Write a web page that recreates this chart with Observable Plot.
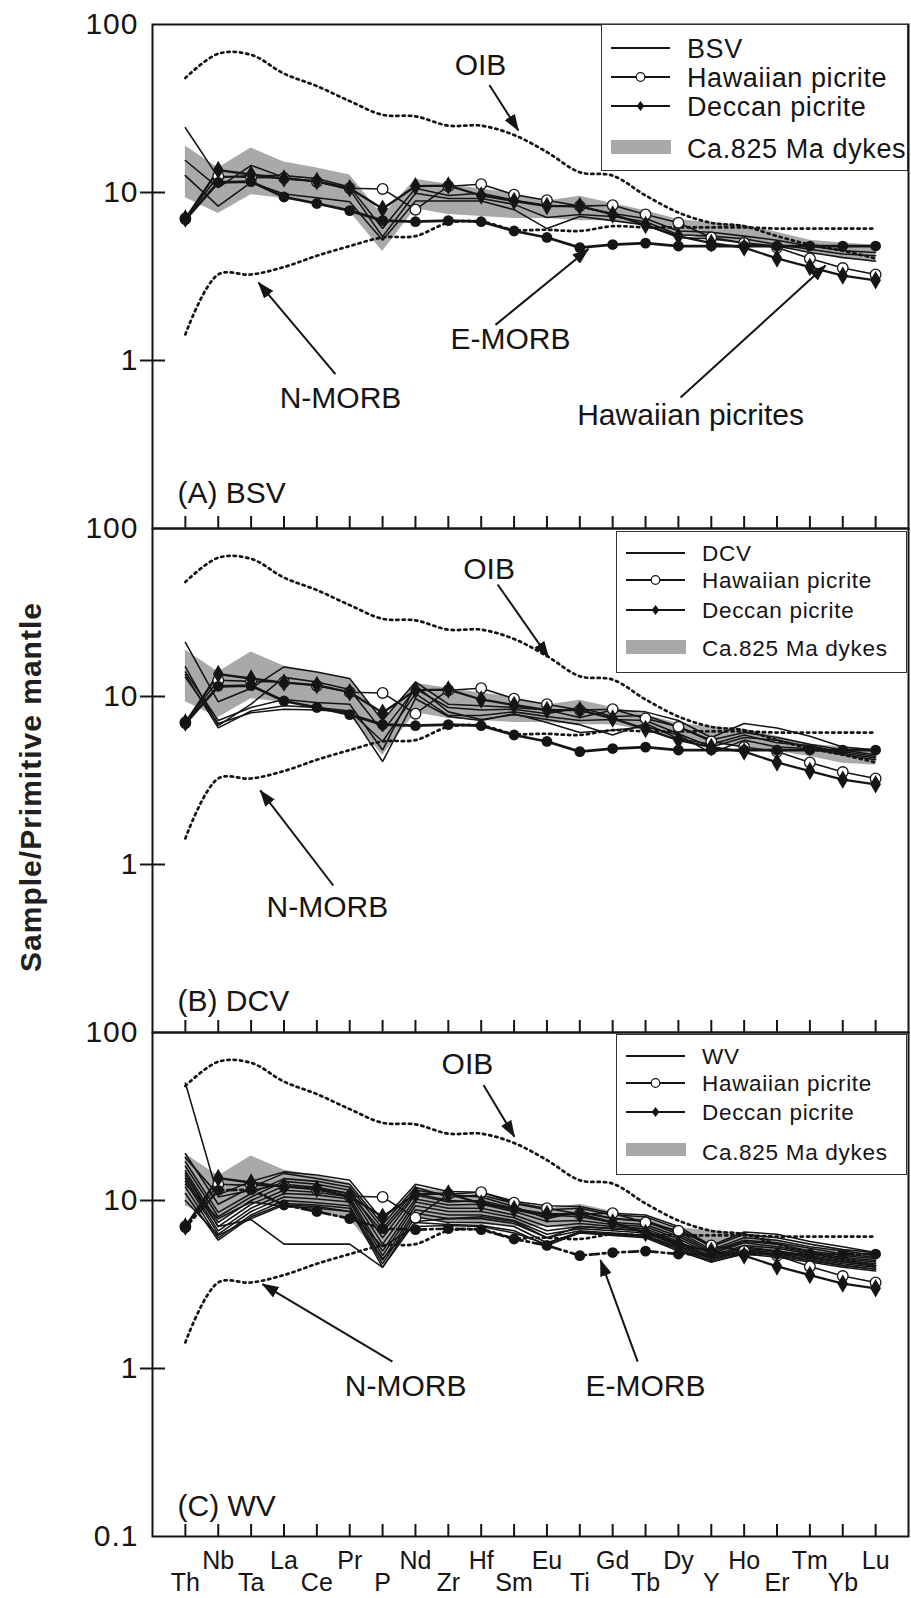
<!DOCTYPE html>
<html>
<head>
<meta charset="utf-8">
<script src="https://cdn.jsdelivr.net/npm/d3@7"></script>
<script src="https://cdn.jsdelivr.net/npm/@observablehq/plot@0.6"></script>
<style>
  body { margin: 0; background: #fff; }
  #wrap { position: relative; width: 911px; height: 1598px; overflow: hidden;
          font-family: "Liberation Sans", Arial, sans-serif; color: #231f20; }
  .panel { position: absolute; left: 0; }
  .panel svg { overflow: visible; background: transparent; }
  g[aria-label="annot"] text { letter-spacing: 2px; }
  g[aria-label="plabel"] text { letter-spacing: 2px; }
  g[aria-label="xlab"] text { letter-spacing: 1.2px; }
  g[aria-label="y-axis tick label"] text { letter-spacing: 1px; }
  .legend { position: absolute; background: #fff; border: 1.5px solid #333; box-sizing: border-box; }
  .legend svg { position: absolute; left: 0; top: 0; overflow: visible; }
  #ytitle { position: absolute; width: 420px; height: 36px; line-height: 36px; left: -179px; top: 769px;
            text-align: center; transform: rotate(-90deg); font-weight: bold; font-size: 30px;
            letter-spacing: 1px; color: #231f20; }
</style>
</head>
<body>
<div id="wrap">
  <div id="ytitle">Sample/Primitive mantle</div>
</div>
<script>
// ---------------- DATA ----------------
const elements = ["Th","Nb","Ta","La","Ce","Pr","P","Nd","Zr","Hf","Sm","Eu","Ti","Gd","Tb","Dy","Y","Ho","Er","Tm","Yb","Lu"];

const oib      = [48, 67, 66, 51, 43, 35, 29, 28.4, 25, 25, 22, 17.4, 13.2, 12.6, 9.6, 7.6, 6.6, 6.3, 5.5, 4.9, 4.5, 4.05];
const nmorb    = [1.43, 3.25, 3.25, 3.6, 4.2, 4.8, 5.4, 5.5, 6.6, 6.7, 6.0, 6.0, 5.9, 6.3, 6.2, 6.2, 6.2, 6.2, 6.1, 6.1, 6.1, 6.1];
const emorb    = [6.9, 11.5, 11.6, 9.4, 8.6, 7.8, 6.8, 6.7, 6.8, 6.7, 5.9, 5.4, 4.7, 4.9, 5.0, 4.8, 4.8, 4.8, 4.8, 4.8, 4.8, 4.8];
const hawaiian = [7.0, 12.5, 12.3, 12.2, 11.6, 10.6, 10.5, 7.9, 10.9, 11.2, 9.7, 9.0, 8.3, 8.4, 7.4, 6.6, 5.4, 5.0, 4.7, 4.05, 3.55, 3.25];
const deccan   = [7.0, 13.6, 12.8, 12.1, 11.7, 10.6, 8.0, 10.9, 11.0, 9.6, 8.9, 8.3, 8.3, 7.4, 6.4, 5.5, 5.0, 4.7, 4.05, 3.6, 3.2, 3.0];

const dykesUpper = [18.9, 14.0, 18.4, 15.2, 14.0, 12.7, 7.3, 12.0, 11.2, 10.5, 9.9, 8.9, 9.5, 8.6, 7.8, 6.9, 6.6, 6.4, 5.8, 5.2, 5.0, 4.85];
const dykesLower = [9.3, 7.5, 9.7, 9.2, 8.4, 7.7, 4.45, 8.0, 7.4, 7.2, 7.0, 7.0, 6.8, 6.8, 6.3, 5.7, 5.2, 4.95, 4.7, 4.4, 4.0, 3.9];

const bsvSamples = [
  [24.3, 12.3, 12.6, 12.6, 12.1, 10.8, 6.1, 10.6, 9.6, 9.9, 9.0, 8.4, 8.2, 7.5, 7.0, 5.9, 5.8, 5.5, 5.2, 4.8, 4.5, 4.4],
  [15.5, 10.7, 14.5, 12.3, 11.6, 10.4, 5.45, 9.9, 9.2, 9.2, 8.5, 7.1, 7.4, 7.2, 6.7, 5.6, 5.5, 5.3, 4.9, 4.6, 4.3, 4.2],
  [12.6, 8.3, 11.5, 9.8, 9.3, 8.8, 5.2, 8.9, 8.9, 8.9, 7.9, 6.1, 7.2, 6.8, 6.4, 5.4, 5.3, 5.0, 4.8, 4.4, 4.1, 3.9]
];

const dcvSamples = [
  [21, 9.3, 11.2, 15.0, 14.0, 12.8, 7.2, 12.2, 9.0, 8.8, 8.6, 8.3, 7.5, 8.3, 8.1, 7.2, 5.7, 6.9, 6.5, 5.8, 5.0, 4.8],
  [15, 6.7, 9.0, 13.0, 12.2, 11.0, 6.2, 11.1, 8.6, 8.3, 8.4, 7.9, 8.6, 7.6, 7.7, 6.6, 5.5, 6.1, 5.7, 5.2, 4.8, 4.5],
  [13.5, 6.5, 8.2, 8.8, 8.6, 8.2, 5.4, 10.4, 7.7, 7.7, 8.1, 7.6, 7.2, 7.3, 7.2, 6.0, 5.0, 5.7, 5.5, 5.0, 4.7, 4.4],
  [13.0, 6.9, 8.0, 8.4, 8.3, 8.1, 4.1, 9.7, 7.6, 7.2, 7.9, 7.0, 6.1, 6.3, 6.6, 5.9, 4.6, 5.5, 5.0, 4.9, 4.5, 4.2],
  [14.0, 7.2, 8.6, 9.6, 9.2, 9.0, 4.8, 11.6, 8.1, 7.3, 7.8, 7.3, 6.8, 5.9, 6.9, 5.6, 5.2, 5.9, 5.3, 5.1, 4.6, 4.3]
];

const wvSamples = [
  [50, 10.5, 11.5, 12.5, 12.0, 11.0, 6.5, 11.0, 10.0, 9.8, 8.8, 8.0, 8.5, 7.8, 7.5, 6.3, 5.0, 5.8, 5.6, 5.2, 4.8, 4.6],
  [14, 7.0, 7.7, 5.5, 5.5, 5.5, 4.0, 7.5, 7.8, 8.0, 7.5, 6.0, 7.0, 6.8, 6.6, 5.6, 4.6, 5.2, 5.0, 4.6, 4.3, 4.1],
  [19, 9.5, 12.0, 14.5, 13.5, 12.5, 7.2, 12.0, 10.5, 10.8, 9.6, 8.8, 9.0, 8.2, 8.0, 6.8, 5.3, 6.3, 6.0, 5.5, 5.1, 4.9],
  [17, 8.5, 11.0, 13.5, 13.0, 12.0, 6.8, 11.5, 10.8, 10.5, 9.2, 7.8, 8.6, 7.8, 7.6, 6.5, 5.1, 6.0, 5.8, 5.3, 5.0, 4.7],
  [16, 8.0, 10.5, 13.0, 12.5, 11.5, 6.0, 10.8, 9.8, 10.0, 9.0, 8.2, 8.0, 7.4, 7.2, 6.1, 4.9, 5.7, 5.5, 5.0, 4.7, 4.5],
  [15, 7.4, 10.0, 12.2, 11.8, 11.0, 5.5, 10.2, 9.4, 9.5, 8.6, 7.5, 7.6, 7.2, 7.0, 5.9, 4.8, 5.6, 5.3, 4.9, 4.6, 4.4],
  [14.5, 7.0, 9.5, 11.5, 11.2, 10.5, 5.0, 9.8, 9.0, 9.0, 8.2, 7.0, 7.3, 7.0, 6.8, 5.7, 4.7, 5.4, 5.2, 4.8, 4.5, 4.3],
  [13.5, 6.6, 9.0, 11.0, 10.8, 10.2, 4.7, 9.3, 8.6, 8.6, 7.9, 6.6, 7.0, 6.8, 6.6, 5.5, 4.6, 5.3, 5.0, 4.7, 4.4, 4.2],
  [13, 6.3, 8.6, 10.5, 10.2, 9.8, 4.4, 8.8, 8.2, 8.2, 7.6, 6.3, 6.8, 6.6, 6.4, 5.4, 4.5, 5.1, 4.9, 4.6, 4.3, 4.1],
  [12, 6.0, 8.2, 10.0, 9.7, 9.3, 4.2, 8.4, 7.8, 7.8, 7.3, 6.0, 6.6, 6.4, 6.2, 5.2, 4.4, 5.0, 4.8, 4.5, 4.2, 4.0],
  [11, 5.8, 8.0, 9.6, 9.4, 9.0, 4.0, 8.0, 7.4, 7.4, 7.0, 5.6, 6.5, 6.3, 6.1, 5.1, 4.3, 4.9, 4.7, 4.4, 4.1, 3.9],
  [10, 6.2, 7.8, 9.4, 9.2, 8.6, 4.5, 7.4, 7.2, 7.1, 6.6, 5.4, 6.4, 6.2, 6.0, 5.0, 4.3, 4.8, 4.6, 4.3, 4.0, 3.8],
  [18, 10.8, 13.0, 14.8, 14.2, 13.2, 7.6, 12.5, 11.3, 11.2, 9.9, 9.3, 9.2, 8.4, 8.2, 7.0, 5.4, 6.5, 6.3, 5.7, 5.3, 4.9],
  [12.5, 7.8, 9.8, 9.2, 9.0, 8.6, 5.3, 7.0, 7.1, 7.0, 6.4, 5.5, 6.5, 6.3, 6.2, 5.3, 4.5, 5.0, 4.7, 4.4, 4.1, 3.9]
];

const yLabelsAB = [100, 10, 1];
const yLabelsC = [100, 10, 1, 0.1];

// annotation texts/arrows: x = element index, y = normalized value
const annotA = {
  texts: [{x: 8.98, y: 57.0, t: "OIB"}, {x: 4.72, y: 0.594, t: "N-MORB"}, {x: 9.89, y: 1.33, t: "E-MORB"}, {x: 15.37, y: 0.471, t: "Hawaiian picrites"}],
  arrows: [{x1: 9.25, y1: 43.6, x2: 10.13, y2: 23.4}, {x1: 4.565, y1: 0.83, x2: 2.222, y2: 2.91},
           {x1: 9.435, y1: 1.63, x2: 12.265, y2: 4.61}, {x1: 15.065, y1: 0.602, x2: 19.478, y2: 3.68}]
};
const annotB = {
  texts: [{x: 9.24, y: 57.0, t: "OIB"}, {x: 4.32, y: 0.555, t: "N-MORB"}],
  arrows: [{x1: 9.50, y1: 46.4, x2: 11.05, y2: 17.1}, {x1: 4.50, y1: 0.75, x2: 2.28, y2: 2.76}]
};
const annotC = {
  texts: [{x: 8.58, y: 64.5, t: "OIB"}, {x: 6.70, y: 0.782, t: "N-MORB"}, {x: 14.0, y: 0.782, t: "E-MORB"}],
  arrows: [{x1: 9.07, y1: 48.7, x2: 10.01, y2: 24.0}, {x1: 6.30, y1: 1.10, x2: 2.343, y2: 3.18},
           {x1: 13.76, y1: 1.10, x2: 12.63, y2: 4.42}]
};

// ---------------- DRAW ----------------
const INK = "#161415";
const ser = arr => arr.map((v, i) => ({x: i, v}));
const idx = elements.map((_, i) => i);

function panel(cfg) {
  const band = idx.map(i => ({x: i, lo: dykesLower[i], hi: dykesUpper[i]}));
  const rows = cfg.samples.flatMap((s, k) => s.map((v, i) => ({x: i, v, k})));
  const dots = "2.3 4";
  const marks = [
    Plot.areaY(band, {x: "x", y1: "lo", y2: "hi", fill: "#a9a9a9"}),
    Plot.line(ser(oib), {x: "x", y: "v", stroke: INK, strokeWidth: 2.7, strokeDasharray: dots, curve: "catmull-rom"}),
    Plot.line(ser(nmorb), {x: "x", y: "v", stroke: INK, strokeWidth: 2.7, strokeDasharray: dots, curve: "catmull-rom"}),
    Plot.line(rows, {x: "x", y: "v", z: "k", stroke: INK, strokeWidth: 1.55, strokeLinejoin: "miter"}),
    Plot.line(ser(emorb), {x: "x", y: "v", stroke: INK, strokeWidth: 2.7, strokeDasharray: cfg.emorbDash}),
    Plot.line(ser(hawaiian), {x: "x", y: "v", stroke: INK, strokeWidth: 1.6}),
    Plot.line(ser(deccan), {x: "x", y: "v", stroke: INK, strokeWidth: 2.3}),
    Plot.dot(ser(hawaiian), {x: "x", y: "v", r: 5.3, fill: "white", stroke: INK, strokeWidth: 1.3}),
    Plot.dot(ser(deccan), {x: "x", y: "v", symbol: "diamond", r: 5.6, fill: INK}),
    Plot.dot(ser(emorb), {x: "x", y: "v", r: 5.4, fill: INK}),
    Plot.frame({stroke: INK, strokeWidth: 2}),
    Plot.axisX({ticks: idx, tickSize: 12, dy: -12, tickFormat: () => "", strokeWidth: 2, label: null}),
    Plot.axisY({ticks: [1, 10], tickSize: 25, dx: 13, tickFormat: () => "", strokeWidth: 2, label: null}),
    Plot.axisY({ticks: cfg.yLabels, tickSize: 0, tickPadding: 14, fontSize: 30, tickFormat: d => String(d), label: null, fill: INK}),
    Plot.text(cfg.annot.texts, {x: "x", y: "y", text: "t", fontSize: 30, fill: INK, ariaLabel: "annot"}),
    Plot.link(cfg.annot.arrows, {x1: "x1", y1: "y1", x2: "x2", y2: "y2", stroke: INK, strokeWidth: 2}),
    Plot.text([cfg.label], {frameAnchor: "bottom-left", dx: 25, dy: cfg.labelDy, text: d => d, textAnchor: "start",
                            lineAnchor: "middle", fontSize: 30, fill: INK, ariaLabel: "plabel"})
  ];
  if (cfg.xLabels) {
    marks.push(Plot.text(idx.filter(i => i % 2 === 1), {x: d => d, text: d => elements[d], frameAnchor: "bottom", dy: 24,
      lineAnchor: "middle", fontSize: 25, fill: INK, ariaLabel: "xlab"}));
    marks.push(Plot.text(idx.filter(i => i % 2 === 0), {x: d => d, text: d => elements[d], frameAnchor: "bottom", dy: 46,
      lineAnchor: "middle", fontSize: 25, fill: INK, ariaLabel: "xlab"}));
  }
  const svg = Plot.plot({
    width: 911, height: cfg.height,
    marginLeft: 152, marginRight: 3, marginTop: 24, marginBottom: cfg.marginBottom,
    x: {domain: [-1, 22], label: null},
    y: {type: "log", domain: [0.1, 100], label: null},
    style: {background: "transparent", overflow: "visible", fontFamily: "Liberation Sans, Arial, sans-serif", color: INK},
    marks
  });
  // filled arrow heads
  const mid = "ah" + cfg.id;
  const defs = d3.select(svg).insert("defs", ":first-child");
  defs.append("marker").attr("id", mid).attr("viewBox", "0 0 17 12").attr("refX", 16).attr("refY", 6)
    .attr("markerWidth", 17).attr("markerHeight", 12).attr("markerUnits", "userSpaceOnUse").attr("orient", "auto")
    .append("path").attr("d", "M0,0L17,6L0,12Z").attr("fill", INK);
  d3.select(svg).selectAll('g[aria-label="link"] path').attr("marker-end", `url(#${mid})`);
  const div = document.createElement("div");
  div.className = "panel";
  div.style.top = cfg.top + "px";
  div.appendChild(svg);
  document.getElementById("wrap").appendChild(div);
}

function legend(cfg) {
  const d = document.createElement("div");
  d.className = "legend";
  Object.assign(d.style, {left: cfg.left + "px", top: cfg.top + "px", width: cfg.w + "px", height: cfg.h + "px"});
  const [x0, x1] = cfg.lineX, xm = (x0 + x1) / 2, tx = cfg.textX;
  const [r0, r1, r2, r3] = cfg.rows;
  const fs = cfg.fs, ls = cfg.ls;
  const txt = (y, s) => `<text x="${tx}" y="${y}" dy="0.36em" font-size="${fs}" letter-spacing="${ls}" fill="${INK}" font-family="Liberation Sans, Arial, sans-serif">${s}</text>`;
  const dia = (x, y, r) => `<path d="M${x},${y - r}L${x + r * 0.75},${y}L${x},${y + r}L${x - r * 0.75},${y}Z" fill="${INK}"/>`;
  d.innerHTML = `<svg width="${cfg.w}" height="${cfg.h}">
    <line x1="${x0}" x2="${x1}" y1="${r0}" y2="${r0}" stroke="${INK}" stroke-width="2"/>
    ${txt(r0, cfg.name)}
    <line x1="${x0}" x2="${x1}" y1="${r1}" y2="${r1}" stroke="${INK}" stroke-width="2"/>
    <circle cx="${xm}" cy="${r1}" r="4.3" fill="white" stroke="${INK}" stroke-width="1.2"/>
    ${txt(r1, "Hawaiian picrite")}
    <line x1="${x0}" x2="${x1}" y1="${r2}" y2="${r2}" stroke="${INK}" stroke-width="2"/>
    ${dia(xm, r2, 5)}
    ${txt(r2, "Deccan picrite")}
    <rect x="${x0}" y="${cfg.sw[0]}" width="${x1 - x0 + 1}" height="${cfg.sw[1] - cfg.sw[0]}" fill="#a9a9a9"/>
    ${txt(r3, "Ca.825 Ma dykes")}
  </svg>`;
  document.getElementById("wrap").appendChild(d);
}

panel({id: "A", top: 0, height: 548, marginBottom: 20, samples: bsvSamples, emorbDash: null,
       yLabels: yLabelsAB, annot: annotA, label: "(A) BSV", labelDy: -35, xLabels: false});
panel({id: "B", top: 504, height: 548, marginBottom: 20, samples: dcvSamples, emorbDash: null,
       yLabels: yLabelsAB, annot: annotB, label: "(B) DCV", labelDy: -31, xLabels: false});
panel({id: "C", top: 1008, height: 590, marginBottom: 62, samples: wvSamples, emorbDash: "9 4 2.6 4",
       yLabels: yLabelsC, annot: annotC, label: "(C) WV", labelDy: -30, xLabels: true});

legend({left: 601, top: 24, w: 307, h: 147, lineX: [9, 68], textX: 85, rows: [23, 52, 81, 123], sw: [115, 129],
        fs: 27, ls: 0.6, name: "BSV"});
legend({left: 616, top: 531, w: 291, h: 142, lineX: [9, 68], textX: 85, rows: [21, 48, 78, 116], sw: [108, 122],
        fs: 22.5, ls: 0.7, name: "DCV"});
legend({left: 616, top: 1034, w: 291, h: 141, lineX: [9, 68], textX: 85, rows: [21, 48, 77, 117], sw: [108, 121],
        fs: 22.5, ls: 0.7, name: "WV"});
</script>
</body>
</html>
